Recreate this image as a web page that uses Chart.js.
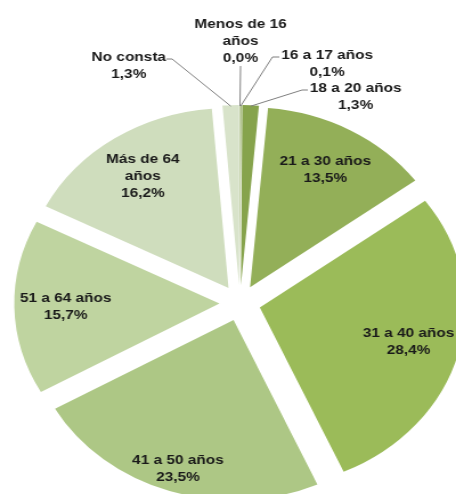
<!DOCTYPE html>
<html>
<head>
<meta charset="utf-8">
<script src="https://cdn.jsdelivr.net/npm/chart.js@4/dist/chart.umd.min.js"></script>
<style>
  body { margin: 0; background: #fff; }
  #wrap { width: 456px; height: 494px; overflow: hidden; position: relative; }
  #c { transform: scaleX(1.14); transform-origin: 0 0; }
</style>
</head>
<body>
<div id="wrap"><canvas id="c" width="421" height="606"></canvas></div>
<script>
// age groups and share (%)
const categories = ['Menos de 16 años', '16 a 17 años', '18 a 20 años', '21 a 30 años', '31 a 40 años',
    '41 a 50 años', '51 a 64 años', 'Más de 64 años', 'No consta'];
const values = [0.0, 0.1, 1.3, 13.5, 28.4, 23.5, 15.7, 16.2, 1.3];

const colors = ['#8aa64f', '#7e9a45', '#86a34c', '#93af58', '#9bbb59',
    '#adc785', '#bfd4a0', '#cfddbd', '#d8e3ca'];

const explode = 18;

// labels that sit outside the pie, with leader lines (canvas px)
const outside = {
    0: { x: 211, y: 24, line: [[211, 66], [211, 66]] },
    1: { x: 287, y: 55, line: [[245, 57], [239, 57]] },
    2: { x: 312, y: 88, line: [[270, 90], [265, 90]] },
    8: { x: 113, y: 57, line: [[146, 59], [151, 59]] }
};
const insideRadius = { 5: 0.87 };
const wrapped = [0, 7];

const fmt = v => v.toFixed(1).replace('.', ',') + '%';

function linesFor(i) {
    let name = categories[i];
    let lines = wrapped.includes(i) ? [name.replace(' años', ''), 'años'] : [name];
    lines.push(fmt(values[i]));
    return lines;
}

// pull every slice out from the centre
const explodePlugin = {
    id: 'explode',
    afterDatasetUpdate(chart, args) {
        args.meta.data.forEach(arc => {
            const mid = (arc.startAngle + arc.endAngle) / 2;
            arc.x += Math.cos(mid) * explode;
            arc.y += Math.sin(mid) * explode;
        });
    }
};

const labelPlugin = {
    id: 'sliceLabels',
    afterDatasetsDraw(chart) {
        const ctx = chart.ctx;
        const meta = chart.getDatasetMeta(0);
        ctx.save();
        ctx.font = 'bold 13.5px "Liberation Sans", Arial, sans-serif';
        ctx.fillStyle = '#1a1a1a';
        ctx.textAlign = 'center';
        ctx.textBaseline = 'middle';
        const lh = 17;
        meta.data.forEach((arc, i) => {
            const p = arc.getProps(['x', 'y', 'startAngle', 'endAngle', 'outerRadius'], true);
            const mid = (p.startAngle + p.endAngle) / 2;
            const lines = linesFor(i);
            if (outside[i]) {
                const o = outside[i];
                const r = p.outerRadius - 1;
                const ax = p.x + Math.cos(mid) * r;
                const ay = p.y + Math.sin(mid) * r;
                ctx.strokeStyle = '#7f7f7f';
                ctx.lineWidth = 1;
                ctx.beginPath();
                ctx.moveTo(o.line[0][0], o.line[0][1]);
                ctx.lineTo(o.line[1][0], o.line[1][1]);
                ctx.lineTo(ax, ay);
                ctx.stroke();
                lines.forEach((t, k) => ctx.fillText(t, o.x, o.y + k * lh));
            } else {
                const f = insideRadius[i] || 0.75;
                const r = p.outerRadius * f;
                const cx = p.x + Math.cos(mid) * r;
                const cy = p.y + Math.sin(mid) * r;
                const top = cy - (lines.length - 1) * lh / 2;
                lines.forEach((t, k) => ctx.fillText(t, cx, top + k * lh));
            }
        });
        ctx.restore();
    }
};

new Chart(document.getElementById('c'), {
    type: 'pie',
    data: {
        labels: categories,
        datasets: [{
            data: values,
            backgroundColor: colors,
            borderWidth: 0,
            radius: 180
        }]
    },
    options: {
        responsive: false,
        animation: false,
        events: [],
        layout: { padding: 0 },
        plugins: {
            legend: { display: false },
            tooltip: { enabled: false }
        }
    },
    plugins: [explodePlugin, labelPlugin]
});
</script>
</body>
</html>
